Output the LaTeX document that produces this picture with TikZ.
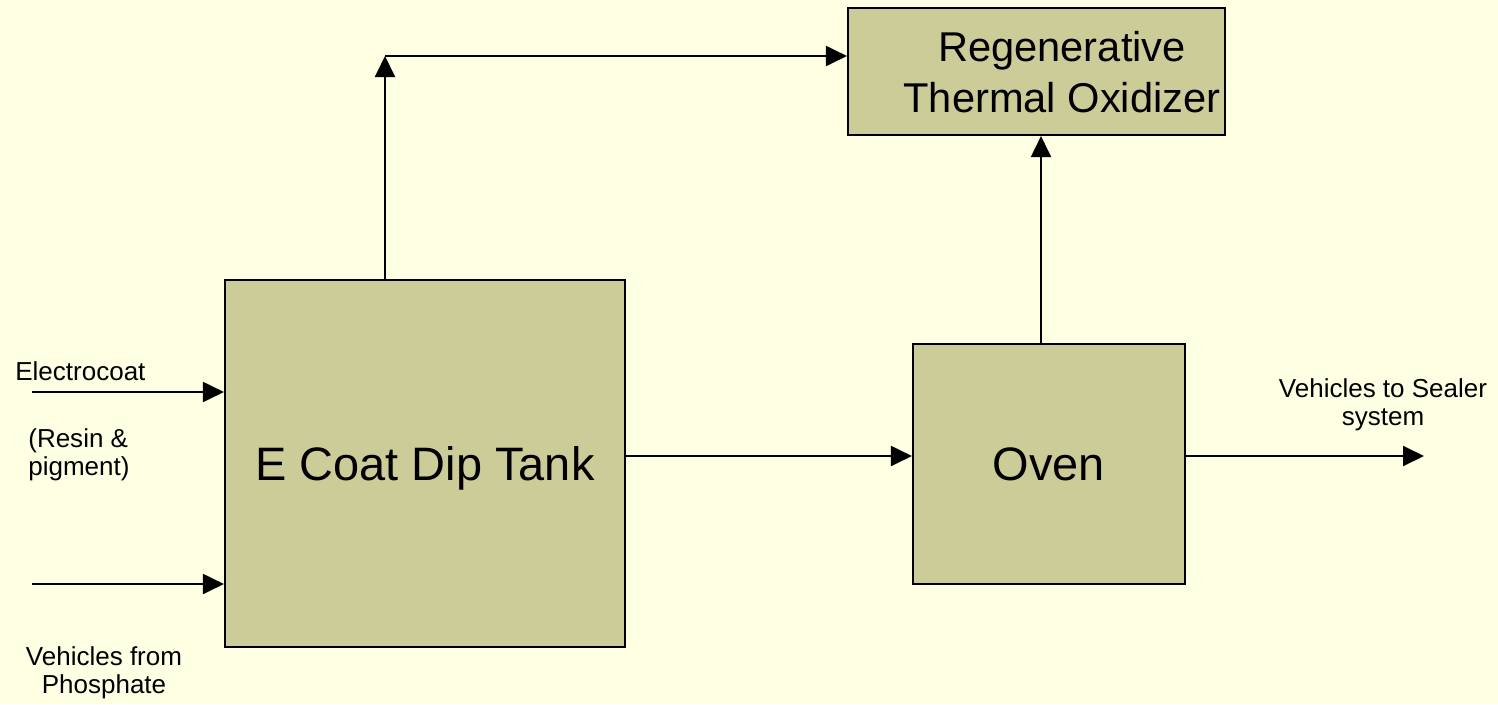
\documentclass[tikz,border=0pt]{standalone}
\usepackage{fontspec}
\setmainfont{Liberation Sans}
\usepackage{xcolor}
\usetikzlibrary{arrows.meta,positioning}
\definecolor{paperyellow}{RGB}{255, 255, 228}
\definecolor{boxkhaki}{RGB}{204, 204, 153}
\tikzset{
 unitbox/.style={
 rectangle,
 draw=black,
 fill=boxkhaki,
 line width=1.2pt,
 align=center,
 inner sep=0pt,
 text depth=0pt,
 font=\fontsize{26.7}{30}\selectfont
 },
 flowlabel/.style={
 inner sep=0pt,
 font=\fontsize{14.8}{15.9}\selectfont
 },
 flowarrow/.style={-{Triangle[length=4.2mm,width=4mm]}, line width=1.1pt, draw=black}
}

\begin{document}
\begin{tikzpicture}
 \useasboundingbox[fill=paperyellow] (0,0) rectangle (29.96,-14.08);
 % process units
 \node[unitbox, minimum width=8.0cm, minimum height=7.34cm] (tank) at (8.50,-9.27) {E Coat Dip Tank};
 \node[unitbox, minimum width=5.44cm, minimum height=4.8cm] (oven) at (20.98,-9.28) {Oven};
 \node[unitbox, minimum width=7.54cm, minimum height=2.54cm] (rto) at (20.73,-1.43) {};
 \node[align=center, inner sep=0pt, font=\fontsize{23.7}{29}\selectfont] (rtotext) at (21.24,-1.45) {Regenerative\\Thermal Oxidizer};
 % free ends
 \coordinate (ecin) at (0.64,-7.84);
 \coordinate (vin) at (0.64,-11.68);
 \coordinate (vout) at (28.48,-9.12);
 \coordinate (corner) at (7.70,-1.12);
 % labels
 \node[flowlabel, anchor=base west] (eclabel) at (0.30,-7.60) {Electrocoat};
 \node[flowlabel, align=left, anchor=west] (resinlabel) at (0.56,-9.10) {(Resin \&\\pigment)};
 \node[flowlabel, align=center] (vinlabel) at (2.08,-13.46) {Vehicles from\\Phosphate};
 \node[flowlabel, align=center] (voutlabel) at (27.66,-8.10) {Vehicles to Sealer\\system};
 % connectors
 \draw[flowarrow] (ecin) -- (ecin -| tank.west);
 \draw[flowarrow] (vin) -- (vin -| tank.west);
 \draw[flowarrow] (tank.east |- vout) -- (oven.west |- vout);
 \draw[flowarrow] (oven.east |- vout) -- (vout);
 \draw[flowarrow] ([xshift=-1.6mm]oven.north) -- ([xshift=-1.6mm]oven.north |- rto.south);
 \draw[flowarrow] (corner |- tank.north) -- (corner);
 \draw[flowarrow] (corner) -- (corner -| rto.west);
\end{tikzpicture}
\end{document}
